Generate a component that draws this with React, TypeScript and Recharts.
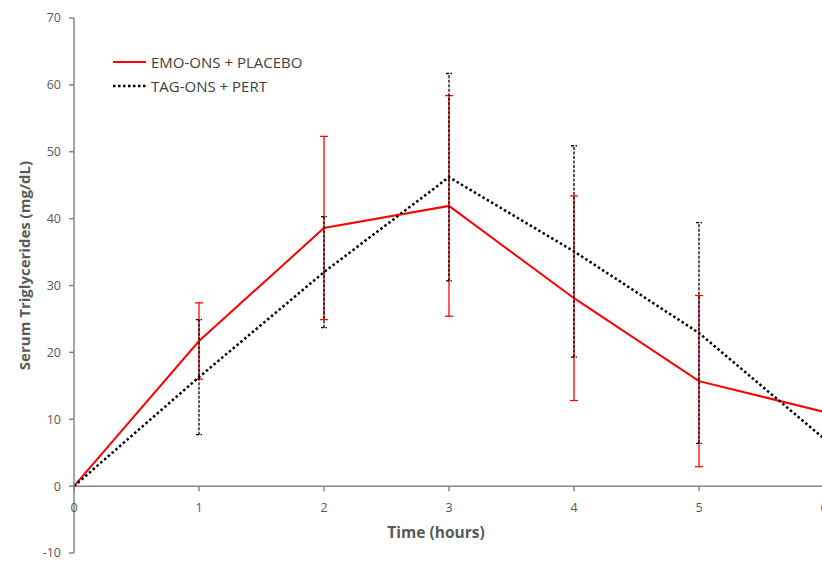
import React from "react";
import {
  LineChart,
  Line,
  XAxis,
  YAxis,
  ErrorBar,
  ReferenceLine,
  ReferenceDot,
  Legend,
} from "recharts";

const hours = [0, 1, 2, 3, 4, 5, 6];
const emoMean = [0, 21.7, 38.6, 41.9, 28.1, 15.7, 11.1];
const emoErr = [null, 5.7, 13.7, 16.5, 15.3, 12.8, null];
const tagMean = [0, 16.3, 32.0, 46.2, 35.1, 22.9, 7.1];
const tagErr = [null, 8.6, 8.3, 15.5, 15.8, 16.5, null];
const yTicks = [-10, 0, 10, 20, 30, 40, 50, 60, 70];
const xTicks = [0, 1, 2, 3, 4, 5, 6];

const data = hours.map((t, i) => ({
  t,
  emo: emoMean[i],
  emoErr: emoErr[i],
  tag: tagMean[i],
  tagErr: tagErr[i],
}));

const series = [
  { name: "EMO-ONS + PLACEBO", color: "#ff0000", dash: undefined as string | undefined, width: 2 },
  { name: "TAG-ONS + PERT", color: "#000000", dash: "2.5 2.5", width: 2.5 },
];

const axisGray = "#868686";
const textGray = "#595959";

function LegendBox() {
  return (
    <div style={{ fontSize: 15, color: "#404040", lineHeight: "24px" }}>
      {series.map((s) => (
        <div key={s.name} style={{ display: "flex", alignItems: "center" }}>
          <svg width={38} height={10}>
            <line x1={0} y1={5} x2={33} y2={5} stroke={s.color} strokeWidth={s.width} strokeDasharray={s.dash} />
          </svg>
          <span>{s.name}</span>
        </div>
      ))}
    </div>
  );
}

function XTick(props: any) {
  const { cx, cy, label } = props;
  return (
    <g>
      <line x1={cx} y1={cy} x2={cx} y2={cy + 5} stroke={axisGray} strokeWidth={1.5} />
      <text x={cx} y={cy + 21} textAnchor="middle" dominantBaseline="central" fontSize={12.5} fill={textGray}>
        {label}
      </text>
    </g>
  );
}

function YTitle(props: any) {
  const vb = props.viewBox;
  const x = vb.x + 24;
  const y = vb.y + vb.height / 2 - 20;
  return (
    <text
      transform={`translate(${x},${y}) rotate(-90)`}
      textAnchor="middle"
      dominantBaseline="central"
      fontSize={15}
      fontWeight="bold"
      fill={textGray}
    >
      Serum Triglycerides (mg/dL)
    </text>
  );
}

export default function App() {
  return (
    <div
      style={{
        position: "fixed",
        left: 0,
        top: 0,
        width: 822,
        height: 561,
        overflow: "hidden",
        background: "#fff",
        fontFamily: "'Open Sans', sans-serif",
      }}
    >
      <LineChart width={850} height={561} data={data} margin={{ top: 18, right: 26, left: 0, bottom: 8 }}>
        <XAxis type="number" dataKey="t" domain={[0, 6]} ticks={xTicks} hide />
        <YAxis
          type="number"
          domain={[-10, 70]}
          ticks={yTicks}
          width={74}
          stroke={axisGray}
          tickSize={5}
          tickMargin={8}
          tick={{ fill: textGray, fontSize: 12.5 }}
          axisLine={{ stroke: axisGray, strokeWidth: 1.5 }}
          tickLine={{ stroke: axisGray, strokeWidth: 1.5 }}
          label={{ content: <YTitle /> }}
        />
        <ReferenceLine
          y={0}
          stroke={axisGray}
          strokeWidth={1.5}
          label={{
            value: "Time (hours)",
            position: "bottom",
            offset: 41,
            dx: -13,
            fontSize: 15.5,
            fontWeight: "bold",
            fill: textGray,
          }}
        />
        {xTicks.map((t) => (
          <ReferenceDot key={t} x={t} y={0} r={0} shape={(p: any) => <XTick {...p} label={t} />} />
        ))}
        <Legend
          layout="vertical"
          align="center"
          verticalAlign="middle"
          wrapperStyle={{ left: 113, top: 50, width: 260 }}
          content={<LegendBox />}
        />
        <Line
          type="linear"
          dataKey="emo"
          name={series[0].name}
          stroke={series[0].color}
          strokeWidth={series[0].width}
          dot={false}
          isAnimationActive={false}
        >
          <ErrorBar dataKey="emoErr" direction="y" stroke="#ff0000" strokeWidth={1.3} width={4} />
        </Line>
        <Line
          type="linear"
          dataKey="tag"
          name={series[1].name}
          stroke={series[1].color}
          strokeWidth={series[1].width}
          strokeDasharray={series[1].dash}
          dot={false}
          isAnimationActive={false}
        >
          <ErrorBar dataKey="tagErr" direction="y" stroke="#000000" strokeWidth={1.3} strokeDasharray="3 1.5" width={3} />
        </Line>
      </LineChart>
    </div>
  );
}
